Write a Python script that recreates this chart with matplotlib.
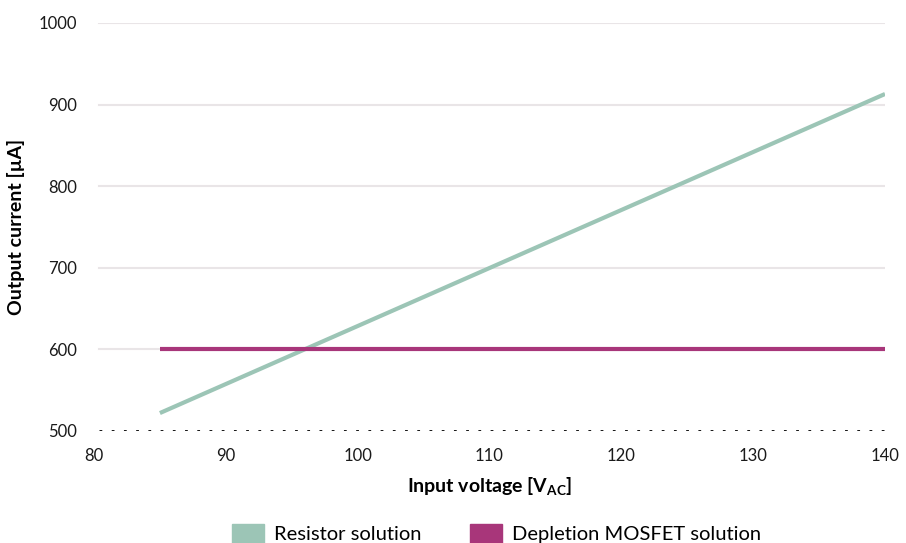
import matplotlib.pyplot as plt
from matplotlib.patches import Patch

plt.rcParams['font.family'] = ['Lato', 'DejaVu Sans']
plt.rcParams['mathtext.fontset'] = 'custom'
plt.rcParams['mathtext.rm'] = 'Lato:bold'

# data
voltage = [85, 140]
resistor_current = [522, 913]
mosfet_current = [601, 601]
x_ticks = [80, 90, 100, 110, 120, 130, 140]
y_ticks = [500, 600, 700, 800, 900, 1000]

green = '#9cc5b6'
magenta = '#a8367a'

fig = plt.figure(figsize=(9.06, 5.43), dpi=100)
ax = fig.add_axes([94 / 906, 112 / 543, 791 / 906, 408 / 543])

for y in y_ticks[1:]:
    ax.axhline(y, xmin=0.006, color='#e9e5e7', linewidth=1.5, zorder=1)
ax.axhline(500, xmin=0.006, color='black', linewidth=2, linestyle=(0, (1, 3.4)), zorder=1)

ax.plot(voltage, resistor_current, color=green, linewidth=3, solid_capstyle='butt', zorder=3)
ax.plot(voltage, mosfet_current, color=magenta, linewidth=3, solid_capstyle='butt', zorder=3)

ax.set_xlim(80, 140)
ax.set_ylim(500, 1000)
ax.set_xticks(x_ticks)
ax.set_yticks(y_ticks)
ax.tick_params(length=0, labelsize=12, colors='#1a1a1a')
ax.tick_params(axis='x', pad=12)
ax.tick_params(axis='y', pad=12)
for s in ax.spines.values():
    s.set_visible(False)

ax.set_xlabel('Input voltage [V$_{\\mathrm{AC}}$]', fontsize=14, fontweight='bold', labelpad=9)
ax.set_ylabel('Output current [µA]', fontsize=14, fontweight='bold', labelpad=10)

handles = [Patch(color=green, label='Resistor solution'),
           Patch(color=magenta, label='Depletion MOSFET solution')]
fig.legend(handles=handles, loc='lower center', ncol=2, frameon=False, fontsize=14.5,
           bbox_to_anchor=(0.548, -0.034), handlelength=1.6, handleheight=1.1,
           columnspacing=2.4, handletextpad=0.5)

fig.savefig('out.png', dpi=100)
